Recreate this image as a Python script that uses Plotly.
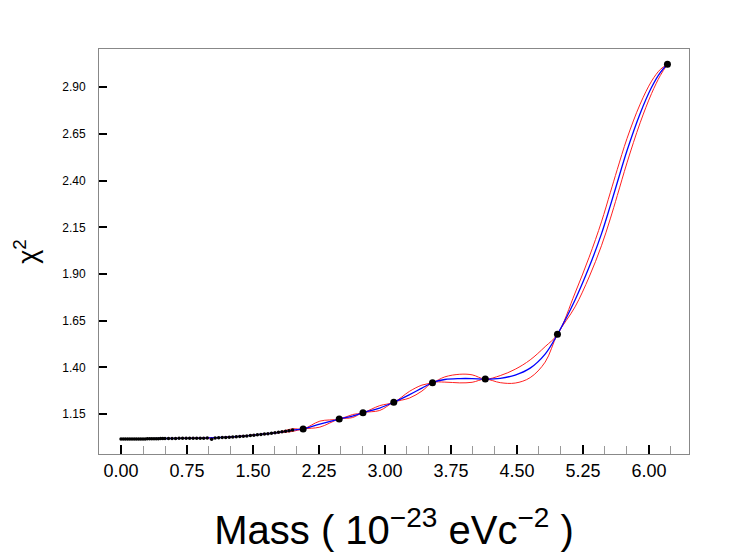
import plotly.graph_objects as go

# dense low-mass scan points (small black markers)
mass_dense = [0.00, 0.025, 0.05, 0.075, 0.10, 0.125, 0.15, 0.175, 0.20, 0.225, 0.25,
              0.275, 0.30, 0.325, 0.35, 0.375, 0.40, 0.425, 0.45, 0.475, 0.50,
              0.54, 0.58, 0.62, 0.66, 0.70, 0.74, 0.78, 0.82, 0.86, 0.90, 0.94, 0.98,
              1.03,
              1.07, 1.11, 1.15, 1.19, 1.23, 1.27, 1.31, 1.35, 1.39, 1.43, 1.47, 1.51,
              1.55, 1.59, 1.63, 1.67, 1.71, 1.75, 1.79, 1.83, 1.87, 1.91, 1.95]
chi2_dense = [1.016, 1.016, 1.016, 1.016, 1.016, 1.017, 1.017, 1.017, 1.017, 1.017, 1.017,
              1.017, 1.018, 1.018, 1.018, 1.018, 1.018, 1.018, 1.019, 1.019, 1.019,
              1.019, 1.019, 1.019, 1.020, 1.020, 1.020, 1.020, 1.021, 1.021, 1.021, 1.021, 1.022,
              1.015,
              1.022, 1.023, 1.024, 1.025, 1.026, 1.027, 1.028, 1.030, 1.031, 1.033, 1.035, 1.037,
              1.039, 1.041, 1.043, 1.045, 1.047, 1.050, 1.052, 1.055, 1.058, 1.061, 1.064]

# main measured points (large black dots)
mass_pts = [2.07, 2.48, 2.75, 3.10, 3.54, 4.14, 4.96, 6.21]
chi2_pts = [1.070, 1.123, 1.157, 1.213, 1.318, 1.337, 1.577, 3.023]

# interpolating curve (blue) and its band (red)
mass_fit = [0.00, 0.50, 1.00, 1.30, 1.60, 1.80, 1.95, 2.07, 2.26, 2.48, 2.63, 2.75,
            2.94, 3.10, 3.28, 3.42, 3.54, 3.68, 3.85, 3.99, 4.14, 4.31, 4.48, 4.65,
            4.82, 4.96, 5.16, 5.32, 5.46, 5.56, 5.64, 5.75, 5.90, 6.03, 6.13, 6.21]
chi2_fit = [1.016, 1.019, 1.022, 1.029, 1.042, 1.052, 1.064, 1.070, 1.096, 1.123, 1.139, 1.157,
            1.182, 1.213, 1.254, 1.289, 1.318, 1.335, 1.340, 1.340, 1.337, 1.341, 1.359, 1.396,
            1.471, 1.577, 1.761, 1.937, 2.115, 2.265, 2.390, 2.560, 2.760, 2.900, 2.980, 3.023]
chi2_upper = [1.016, 1.019, 1.022, 1.029, 1.042, 1.054, 1.071, 1.070, 1.112, 1.123, 1.147, 1.157,
              1.195, 1.213, 1.272, 1.305, 1.318, 1.349, 1.363, 1.360, 1.337, 1.356, 1.390, 1.440,
              1.511, 1.577, 1.798, 1.990, 2.179, 2.335, 2.460, 2.625, 2.810, 2.933, 2.996, 3.023]
chi2_lower = [1.016, 1.019, 1.022, 1.029, 1.042, 1.050, 1.057, 1.070, 1.080, 1.123, 1.131, 1.157,
              1.169, 1.213, 1.236, 1.273, 1.318, 1.321, 1.317, 1.320, 1.337, 1.318, 1.316, 1.345,
              1.428, 1.577, 1.724, 1.884, 2.051, 2.195, 2.320, 2.495, 2.710, 2.867, 2.964, 3.023]

fig = go.Figure()

for band in (chi2_upper, chi2_lower):
    fig.add_trace(go.Scatter(x=mass_fit, y=band, mode='lines',
                             line=dict(color='#ff2020', width=1, shape='spline'),
                             showlegend=False, hoverinfo='skip'))

fig.add_trace(go.Scatter(x=mass_fit, y=chi2_fit, mode='lines',
                         line=dict(color='#0000ff', width=1.3, shape='spline'),
                         showlegend=False))

fig.add_trace(go.Scatter(x=mass_dense, y=chi2_dense, mode='markers',
                         marker=dict(color='black', size=3.5),
                         showlegend=False))

fig.add_trace(go.Scatter(x=mass_pts, y=chi2_pts, mode='markers',
                         marker=dict(color='black', size=7),
                         showlegend=False))

font = 'Liberation Sans, Arial, Helvetica, sans-serif'

# page body has an 8px margin, so the figure is a little smaller than the window
fig.update_layout(
    width=731, height=546,
    margin=dict(l=91, r=50, t=41, b=100),
    paper_bgcolor='white', plot_bgcolor='white',
    font=dict(family=font, color='black'),
    showlegend=False,
)

fig.update_xaxes(
    range=[-0.25, 6.455], automargin=False,
    tick0=0, dtick=0.75, tickformat='.2f',
    ticks='inside', ticklen=9, tickwidth=2, tickcolor='black',
    minor=dict(dtick=0.25, ticks='inside', ticklen=8, tickwidth=1, tickcolor='#999999'),
    tickfont=dict(size=18),
    showgrid=False, zeroline=False,
    showline=True, mirror=True, linecolor='#888888', linewidth=1,
    title=dict(text='Mass ( 10<sup>−23</sup> eVc<sup>−2</sup> )',
               font=dict(size=40), standoff=36),
)

fig.update_yaxes(
    range=[0.936, 3.105], automargin=False,
    tick0=1.15, dtick=0.25, tickformat='.2f',
    ticks='inside', ticklen=8, tickwidth=2, tickcolor='black',
    tickfont=dict(size=12),
    ticklabelstandoff=10,
    showgrid=False, zeroline=False,
    showline=True, mirror=True, linecolor='#888888', linewidth=1,
    title=dict(text='χ<sup>2</sup>', font=dict(size=27), standoff=16),
)

fig.write_html("out.html")
